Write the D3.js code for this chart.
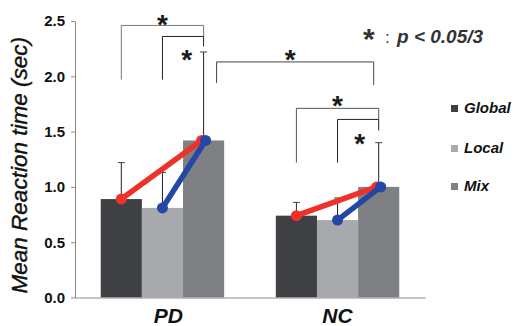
<!DOCTYPE html>
<html>
<head>
<meta charset="utf-8">
<script src="https://cdn.jsdelivr.net/npm/d3@7"></script>
<style>
  html, body { margin: 0; padding: 0; background: #fff; }
  svg { display: block; font-family: "Liberation Sans", Arial, sans-serif; }
</style>
</head>
<body>
<svg id="chart"></svg>
<script>
// data
const groups = ["PD", "NC"];
const series = ["Global", "Local", "Mix"];
const seriesColors = ["#3f4043", "#a8a9ad", "#7f8084"];
const pdMeans = [0.89, 0.81, 1.42];
const ncMeans = [0.74, 0.70, 1.00];
const pdErr = [0.33, 0.32, 0.80];
const ncErr = [0.12, 0.20, 0.40];
const yTicks = [0, 0.5, 1.0, 1.5, 2.0, 2.5];

// significance brackets: ends given as [group, series]
const brackets = [
    {from: ["PD", "Global"], to: ["PD", "Mix"], top: 2.46, leftEnd: 1.97, rightEnd: 2.36, color: "#777"},
    {from: ["PD", "Local"], to: ["PD", "Mix"], top: 2.36, leftEnd: 1.97, rightEnd: 2.27, color: "#222"},
    {from: ["PD", "Mix"], to: ["NC", "Mix"], top: 2.13, leftEnd: 1.94, rightEnd: 1.92, color: "#444", dx1: 13, dx2: -5},
    {from: ["NC", "Global"], to: ["NC", "Mix"], top: 1.71, leftEnd: 1.22, rightEnd: 1.61, color: "#555"},
    {from: ["NC", "Local"], to: ["NC", "Mix"], top: 1.61, leftEnd: 1.22, rightEnd: 1.51, color: "#222"},
];
const stars = [
    {bracket: 0, pos: "mid", y: 2.53},
    {bracket: 1, pos: "right", dx: -17, y: 2.21},
    {bracket: 2, pos: "mid", dx: -5, y: 2.21},
    {bracket: 3, pos: "mid", y: 1.79},
    {bracket: 4, pos: "right", dx: -19, y: 1.45},
];

const means = {PD: pdMeans, NC: ncMeans};
const errs = {PD: pdErr, NC: ncErr};

const W = 516, H = 326;
const margin = {top: 21, right: 91, bottom: 28.5, left: 75};
const width = W - margin.left - margin.right;
const height = H - margin.top - margin.bottom;

const svg = d3.select("#chart").attr("width", W).attr("height", H);
const g = svg.append("g").attr("transform", "translate(" + margin.left + "," + margin.top + ")");

const y = d3.scaleLinear().domain([0, 2.5]).range([height, 0]);
const x0 = d3.scaleBand().domain(groups).range([0, width]).paddingInner(0.295).paddingOuter(0.147);
const x1 = d3.scaleBand().domain(series).range([0, x0.bandwidth()]).padding(0);
const cx = (grp, s) => x0(grp) + x1(s) + x1.bandwidth() / 2;

// axes
const yAxis = g.append("g")
    .call(d3.axisLeft(y).tickValues(yTicks).tickFormat(d3.format(".1f")).tickSize(4).tickSizeOuter(0));
yAxis.select(".domain").attr("stroke", "#8a8a8a");
yAxis.selectAll(".tick line").attr("stroke", "#8a8a8a");
yAxis.selectAll(".tick text")
    .attr("x", -10)
    .attr("fill", "#111")
    .style("font-family", "Liberation Sans, Arial, sans-serif")
    .style("font-size", "15px")
    .style("font-weight", "bold");

// bars
const barData = [];
groups.forEach(grp => series.forEach((s, i) => barData.push({grp, s, i, v: means[grp][i], e: errs[grp][i]})));

g.selectAll("rect.bar").data(barData).enter().append("rect")
    .attr("class", "bar")
    .attr("x", d => x0(d.grp) + x1(d.s))
    .attr("y", d => y(d.v))
    .attr("width", x1.bandwidth())
    .attr("height", d => height - y(d.v))
    .attr("fill", d => seriesColors[d.i]);

// x axis line
const xAxis = g.append("g").attr("transform", "translate(0," + height + ")")
    .call(d3.axisBottom(x0).tickSize(0).tickSizeOuter(0));
xAxis.select(".domain").attr("stroke", "#8a8a8a");
xAxis.selectAll(".tick text")
    .attr("y", 25.5)
    .attr("dy", 0)
    .attr("x", d => d === "PD" ? 6 : 0)
    .attr("fill", "#111")
    .style("font-family", "Liberation Sans, Arial, sans-serif")
    .style("font-size", "21px")
    .style("font-weight", "bold")
    .style("font-style", "italic");

// error bars (upper half)
const eb = g.selectAll("g.err").data(barData).enter().append("g").attr("class", "err");
eb.append("line")
    .attr("x1", d => cx(d.grp, d.s)).attr("x2", d => cx(d.grp, d.s))
    .attr("y1", d => y(d.v)).attr("y2", d => y(d.v + d.e))
    .attr("stroke", "#222").attr("stroke-width", 1);
eb.append("line")
    .attr("x1", d => cx(d.grp, d.s) - 3.5).attr("x2", d => cx(d.grp, d.s) + 3.5)
    .attr("y1", d => y(d.v + d.e)).attr("y2", d => y(d.v + d.e))
    .attr("stroke", "#444").attr("stroke-width", 1);

// connecting lines: Global -> Mix (red), Local -> Mix (blue)
const links = [
    {from: 0, color: "#ee3129", off: -2},
    {from: 1, color: "#2446a4", off: 2},
];
links.forEach(l => {
    groups.forEach(grp => {
        const pts = [
            [cx(grp, series[l.from]), y(means[grp][l.from])],
            [cx(grp, "Mix") + l.off, y(means[grp][2])],
        ];
        g.append("path")
            .attr("d", d3.line()(pts))
            .attr("stroke", l.color).attr("stroke-width", 5.5)
            .attr("stroke-linecap", "round").attr("fill", "none");
        g.selectAll(null).data(pts).enter().append("circle")
            .attr("cx", d => d[0]).attr("cy", d => d[1]).attr("r", 5.5)
            .attr("fill", l.color);
    });
});

// significance brackets
const bx = b => [cx(b.from[0], b.from[1]) + (b.dx1 || 0), cx(b.to[0], b.to[1]) + (b.dx2 || 0)];
brackets.forEach(b => {
    const [xa, xb] = bx(b);
    g.append("path")
        .attr("d", d3.line()([[xa, y(b.leftEnd)], [xa, y(b.top)], [xb, y(b.top)], [xb, y(b.rightEnd)]]))
        .attr("fill", "none").attr("stroke", b.color).attr("stroke-width", 1);
});
const starSize = 28;
stars.forEach(s => {
    const [xa, xb] = bx(brackets[s.bracket]);
    const sx = (s.pos === "mid" ? (xa + xb) / 2 : xb) + (s.dx || 0);
    g.append("text")
        .attr("x", sx).attr("y", y(s.y) + starSize * 0.57)
        .attr("text-anchor", "middle")
        .attr("fill", "#1a1a1a")
        .style("font-size", starSize + "px")
        .style("font-weight", "bold")
        .text("*");
});

// p-value note
const note = svg.append("text").attr("fill", "#333");
note.append("tspan").attr("x", 363).attr("y", 49).style("font-size", "30px").style("font-weight", "bold").text("*");
note.append("tspan").attr("x", 385).attr("y", 43).style("font-size", "17px").text(":");
note.append("tspan").attr("x", 397).attr("y", 43)
    .style("font-size", "19px").style("font-weight", "bold").style("font-style", "italic")
    .text("p < 0.05/3");

// y title
svg.append("text")
    .attr("transform", "translate(27," + (margin.top + height / 2 + 6) + ") rotate(-90)")
    .attr("text-anchor", "middle")
    .attr("fill", "#111")
    .style("font-size", "22.5px")
    .style("font-style", "italic")
    .style("stroke", "#111").style("stroke-width", 0.4)
    .text("Mean Reaction time (sec)");

// legend
const legend = svg.append("g").attr("transform", "translate(451,0)");
const legendY = [113, 153, 191];
series.forEach((s, i) => {
    legend.append("rect")
        .attr("x", 0).attr("y", legendY[i] - 8).attr("width", 7).attr("height", 7)
        .attr("fill", seriesColors[i]);
    legend.append("text")
        .attr("x", 13).attr("y", legendY[i])
        .attr("fill", "#111")
        .style("font-size", "15px").style("font-weight", "bold").style("font-style", "italic")
        .text(s);
});
</script>
</body>
</html>
